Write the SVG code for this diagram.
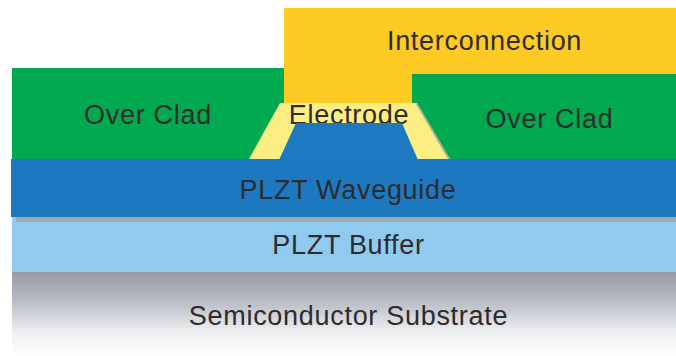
<svg xmlns="http://www.w3.org/2000/svg" width="676" height="356" viewBox="0 0 676 356">
<style>
text{font-family:"Liberation Sans",Arial,sans-serif;font-size:27px;letter-spacing:.7px;fill:#2f2b2c;text-anchor:middle}
.g{fill:#00a94f}.y{fill:#fdcb24}
</style>
<defs><linearGradient id="sub" x1="0" y1="0" x2="0" y2="1"><stop offset="0" stop-color="#989ca3"/><stop offset="0.35" stop-color="#b9bcc4"/><stop offset="0.7" stop-color="#eceef0"/><stop offset="1" stop-color="#ffffff"/></linearGradient></defs>
<rect width="676" height="356" fill="#fff"/>
<g id="substrate"><rect x="12" y="272" width="664" height="84" fill="url(#sub)"/><text x="348.500" y="325">Semiconductor Substrate</text></g>
<g id="buffer"><rect x="12" y="217" width="664" height="55" fill="#90caef"/><rect x="16" y="217" width="660" height="5" fill="#a1a7ae"/><text x="348.500" y="254">PLZT Buffer</text></g>
<g id="overclad-left"><rect class="g" x="12" y="68" width="272" height="92"/><text x="148" y="124">Over Clad</text></g>
<g id="overclad-right"><rect class="g" x="412" y="74" width="264" height="86"/><text x="549.500" y="128">Over Clad</text></g>
<g id="interconnection"><path class="y" d="M284 8H676V74H412V104H284Z"/><text x="484.500" y="50">Interconnection</text></g>
<g id="electrode"><path d="M280 103H417L450 159H249Z" fill="#fbee83"/><path d="M417 103L450 159H448L416 104Z" fill="#a9a9a0"/><text x="349" y="124">Electrode</text></g>
<g id="waveguide"><path d="M296 123H402L418 160H279Z" fill="#1f79c1"/><rect x="11" y="159" width="665" height="58" fill="#1c79c0"/><text x="348" y="199">PLZT Waveguide</text></g>
<g id="connectors"></g>
</svg>
